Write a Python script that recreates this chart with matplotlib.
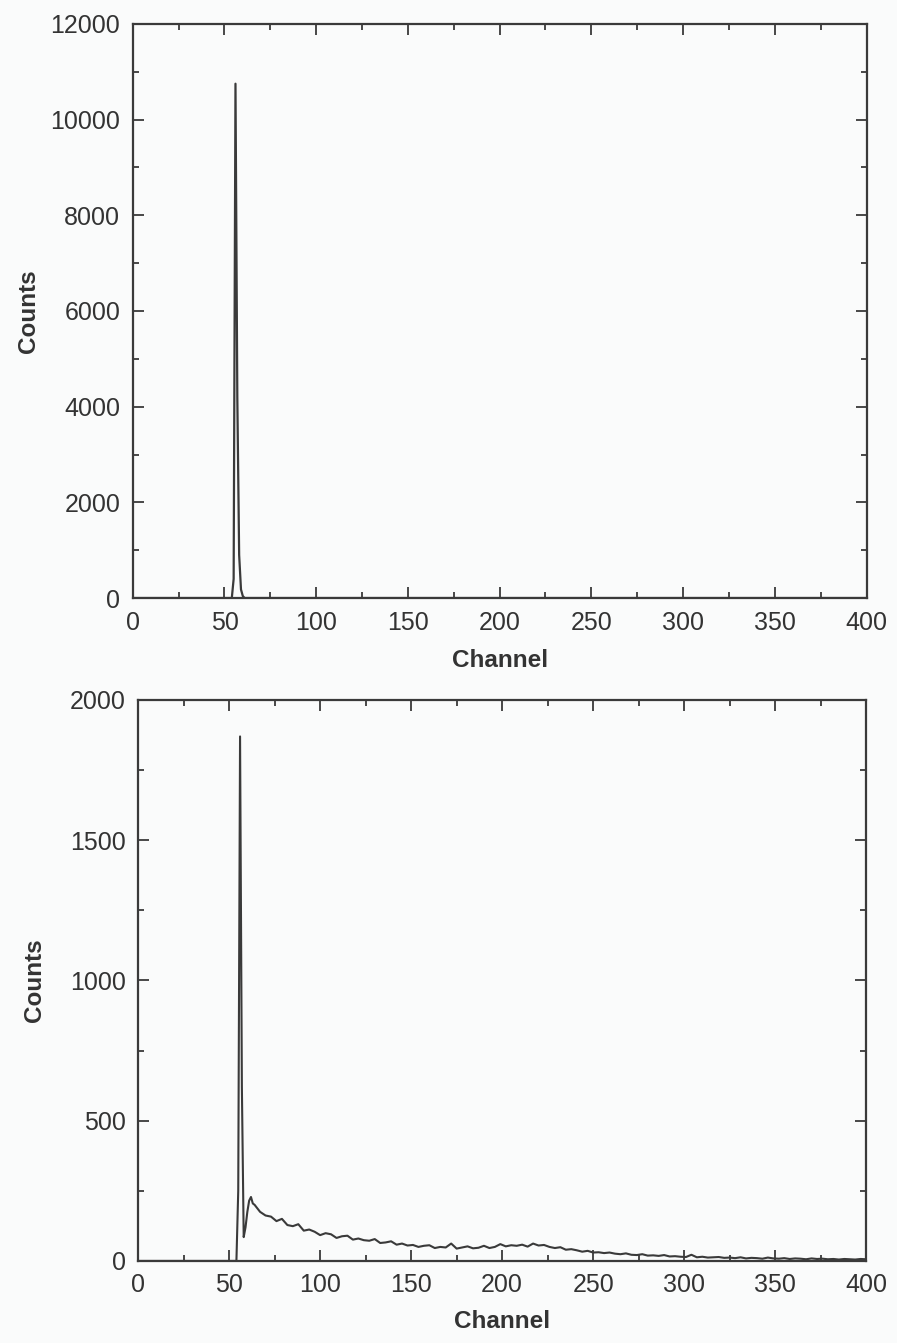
import numpy as np
import matplotlib.pyplot as plt
from matplotlib.ticker import MultipleLocator

plt.rcParams['font.family'] = ['Liberation Sans', 'DejaVu Sans']

# top spectrum: a single narrow peak
top_ch = [0, 54, 55, 56, 57, 58, 59, 60, 61, 400]
top_counts = [0, 0, 400, 10750, 4200, 900, 180, 40, 0, 0]

# bottom spectrum: peak region
peak_ch = [0, 53, 54, 55, 56, 57, 58, 59, 60, 61, 62, 63]
peak_counts = [0, 0, 0, 250, 1870, 620, 85, 120, 175, 215, 228, 205]

# bottom spectrum: tail, every 3 channels
tail_ch = [64, 67, 70, 73, 76, 79, 82, 85, 88, 91, 94, 97, 100, 103, 106, 109,
           112, 115, 118, 121, 124, 127, 130, 133, 136, 139, 142, 145, 148, 151,
           154, 157, 160, 163, 166, 169, 172, 175, 178, 181, 184, 187, 190, 193,
           196, 199, 202, 205, 208, 211, 214, 217, 220, 223, 226, 229, 232, 235,
           238, 241, 244, 247, 250, 253, 256, 259, 262, 265, 268, 271, 274, 277,
           280, 283, 286, 289, 292, 295, 298, 301, 304, 307, 310, 313, 316, 319,
           322, 325, 328, 331, 334, 337, 340, 343, 346, 349, 352, 355, 358, 361,
           364, 367, 370, 373, 376, 379, 382, 385, 388, 391, 394, 397, 400]
tail_counts = [200, 175, 162, 158, 142, 150, 128, 124, 131, 108, 112, 104, 92, 99, 95, 82,
               88, 90, 76, 80, 74, 72, 78, 64, 66, 70, 58, 62, 55, 57,
               50, 54, 56, 46, 50, 48, 62, 44, 48, 52, 45, 47, 54, 46,
               50, 60, 52, 56, 54, 58, 51, 62, 55, 57, 50, 46, 49, 40,
               42, 38, 33, 36, 30, 31, 28, 30, 26, 24, 27, 22, 21, 24,
               19, 20, 18, 21, 16, 17, 15, 14, 22, 13, 15, 12, 13, 14,
               11, 12, 10, 13, 9, 11, 10, 8, 12, 9, 8, 10, 7, 9,
               8, 6, 9, 7, 8, 6, 7, 5, 7, 6, 5, 7, 6]

bot_ch = peak_ch + tail_ch
bot_counts = peak_counts + tail_counts

line_col = '#3a3a3a'
txt_col = '#333333'
bg = '#fafbfb'

fig = plt.figure(figsize=(8.97, 13.43), dpi=100, facecolor=bg)
ax1 = fig.add_axes([0.148, 0.5547, 0.818, 0.4275])
ax2 = fig.add_axes([0.154, 0.0611, 0.8116, 0.4177])

ax1.plot(top_ch, top_counts, color=line_col, lw=1.6)
ax2.plot(bot_ch, bot_counts, color=line_col, lw=1.5)

ax1.set_ylim(0, 12000)
ax1.yaxis.set_major_locator(MultipleLocator(2000))
ax1.yaxis.set_minor_locator(MultipleLocator(1000))
ax2.set_ylim(0, 2000)
ax2.yaxis.set_major_locator(MultipleLocator(500))
ax2.yaxis.set_minor_locator(MultipleLocator(250))

for ax in (ax1, ax2):
    ax.set_facecolor(bg)
    ax.set_xlim(0, 400)
    ax.xaxis.set_major_locator(MultipleLocator(50))
    ax.xaxis.set_minor_locator(MultipleLocator(25))
    ax.tick_params(which='both', direction='in', top=True, right=True,
                   colors=line_col, labelcolor=txt_col, labelsize=18, width=1.3)
    ax.tick_params(which='major', length=8, pad=9)
    ax.tick_params(which='minor', length=4)
    for s in ax.spines.values():
        s.set_linewidth(1.6)
        s.set_color(line_col)
    ax.set_xlabel('Channel', fontsize=17.5, fontweight='bold', color=txt_col, va='center')
    ax.set_ylabel('Counts', fontsize=17.5, fontweight='bold', color=txt_col, va='center')
    ax.xaxis.set_label_coords(0.5, -0.108)
    ax.yaxis.set_label_coords(-0.142, 0.5)

fig.savefig('out.png', dpi=100, facecolor=bg)
